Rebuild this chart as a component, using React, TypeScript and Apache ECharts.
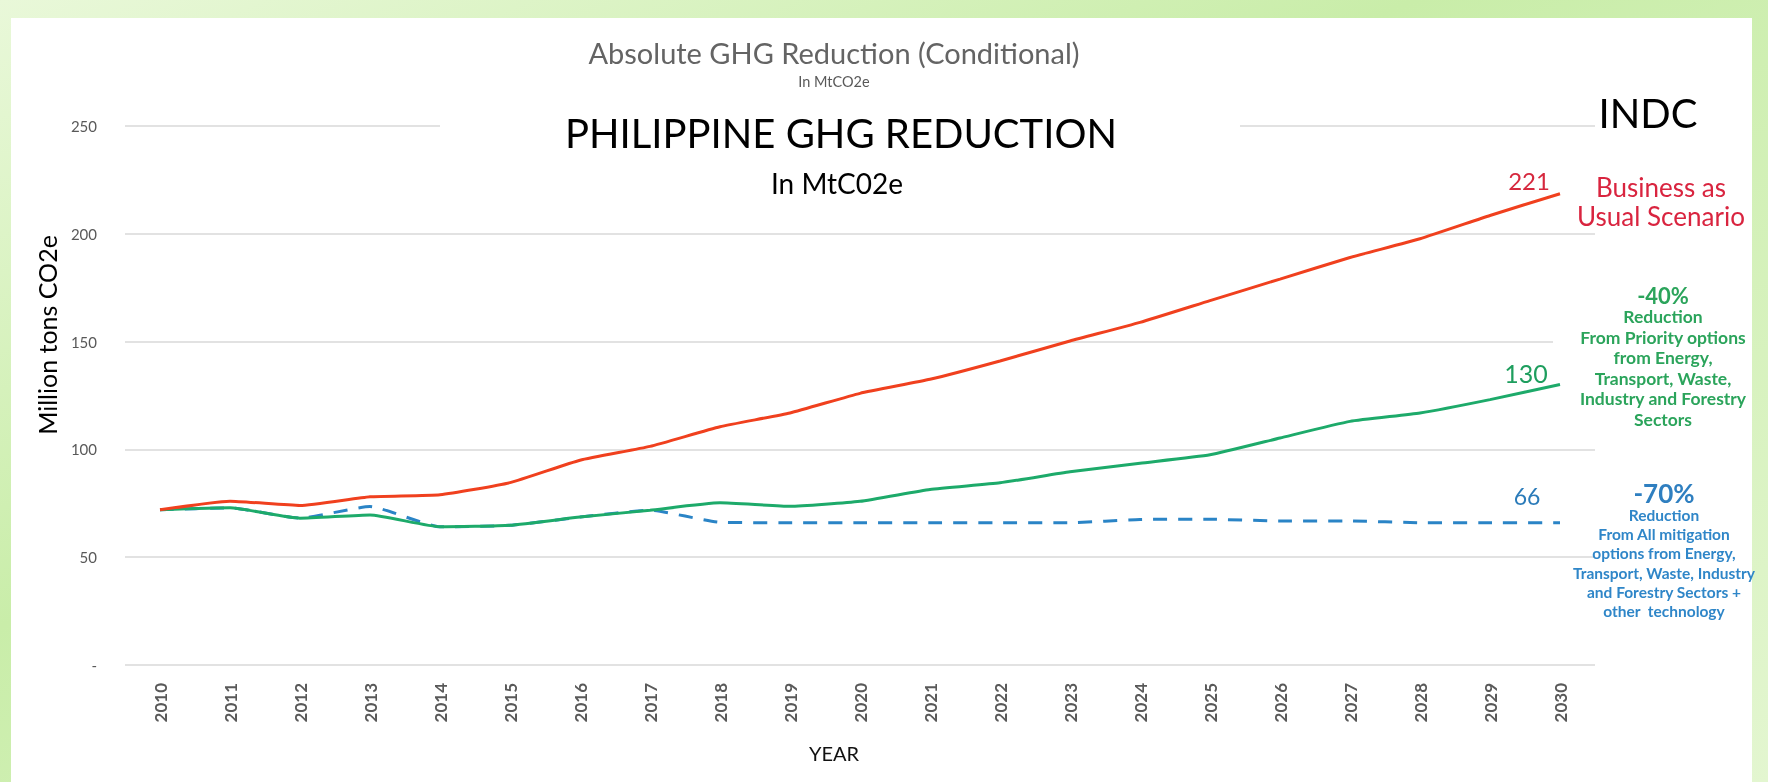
import React, { useEffect, useRef } from "react";
import * as echarts from "echarts";

const years = ["2010","2011","2012","2013","2014","2015","2016","2017","2018","2019","2020","2021","2022","2023","2024","2025","2026","2027","2028","2029","2030"];
const businessAsUsual = [72, 76, 74, 78, 79, 84.6, 95, 101.4, 110.5, 116.9, 126, 132.5, 141, 150.3, 158.9, 169, 179, 189, 197.7, 208.5, 218.6];
const priorityOptions = [72, 72.9, 68.1, 69.6, 64.1, 64.8, 68.6, 71.8, 75.2, 73.6, 75.9, 81.4, 84.5, 89.6, 93.6, 97.5, 105.3, 113, 116.9, 123.1, 130.1];
const allMitigation = [72, 72.9, 68.1, 73.5, 64.1, 64.8, 68.6, 71.8, 66.2, 66, 66, 66, 66, 66, 67.5, 67.6, 66.8, 66.8, 66, 66, 66];
const yTicks = [0, 50, 100, 150, 200, 250];
const endValueLabels = ["221", "130", "66"];
const greenNote = ["-40%", "Reduction", "From Priority options", "from Energy,", "Transport, Waste,", "Industry and Forestry", "Sectors"];
const blueNote = ["-70%", "Reduction", "From All mitigation", "options from Energy,", "Transport, Waste, Industry", "and Forestry Sectors +", "other  technology"];

const FONT = "Lato, 'Open Sans', sans-serif";
const RED = "#F0401E";
const GREEN = "#1DAA6A";
const BLUE = "#2A84C6";

export default function App() {
  const ref = useRef<HTMLDivElement>(null);
  useEffect(() => {
    if (!ref.current) return;
    const chart = echarts.init(ref.current, null, { renderer: "svg" });
    const option: any = {
      animation: false,
      backgroundColor: "transparent",
      graphic: [
        {
          type: "rect", z: -10, silent: true,
          shape: { x: 0, y: 0, width: 1768, height: 782 },
          style: {
            fill: new echarts.graphic.LinearGradient(0, 0, 1, 1, [
              { offset: 0, color: "#E9F8D9" },
              { offset: 0.4, color: "#C9EDA9" },
              { offset: 1, color: "#E3F6D0" },
            ]),
          },
        },
        {
          type: "rect", z: -9, silent: true,
          shape: { x: 11, y: 18, width: 1741, height: 764 },
          style: { fill: "#FFFFFF" },
        },
        {
          type: "rect", z: 1, silent: true,
          shape: { x: 440, y: 112, width: 800, height: 90 },
          style: { fill: "#FFFFFF" },
        },
        {
          type: "rect", z: 1, silent: true,
          shape: { x: 1553, y: 283, width: 199, height: 150 },
          style: { fill: "#FFFFFF" },
        },
        {
          type: "text", z: 5, x: 834, y: 52,
          style: { text: "Absolute GHG Reduction (Conditional)", font: `29px ${FONT}`, fill: "#646464", textAlign: "center", textVerticalAlign: "middle" },
        },
        {
          type: "text", z: 5, x: 834, y: 81,
          style: { text: "In MtCO2e", font: `14.5px ${FONT}`, fill: "#595959", textAlign: "center", textVerticalAlign: "middle" },
        },
        {
          type: "text", z: 5, x: 841, y: 133,
          style: { text: "PHILIPPINE GHG REDUCTION", font: `40px ${FONT}`, fill: "#000000", textAlign: "center", textVerticalAlign: "middle" },
        },
        {
          type: "text", z: 5, x: 837, y: 183,
          style: { text: "In MtC02e", font: `28px ${FONT}`, fill: "#000000", textAlign: "center", textVerticalAlign: "middle" },
        },
        {
          type: "text", z: 5, x: 1648, y: 113,
          style: { text: "INDC", font: `40px ${FONT}`, fill: "#000000", textAlign: "center", textVerticalAlign: "middle" },
        },
        {
          type: "text", z: 5, x: 47, y: 335, rotation: Math.PI / 2,
          style: { text: "Million tons CO2e", font: `25px ${FONT}`, fill: "#000000", textAlign: "center", textVerticalAlign: "middle" },
        },
        {
          type: "text", z: 5, x: 1529, y: 180,
          style: { text: endValueLabels[0], font: `24px ${FONT}`, fill: "#D6283E", textAlign: "center", textVerticalAlign: "middle" },
        },
        {
          type: "text", z: 5, x: 1661, y: 201,
          style: { text: "Business as\nUsual Scenario", font: `26px ${FONT}`, lineHeight: 29, fill: "#D9243F", textAlign: "center", textVerticalAlign: "middle" },
        },
        {
          type: "text", z: 5, x: 1526, y: 373,
          style: { text: endValueLabels[1], font: `25px ${FONT}`, fill: "#1E9E5E", textAlign: "center", textVerticalAlign: "middle" },
        },
        {
          type: "text", z: 5, x: 1663, y: 357,
          style: {
            text: greenNote.map((s, i) => (i === 0 ? `{a|${s}}` : `{b|${s}}`)).join("\n"),
            textAlign: "center", textVerticalAlign: "middle",
            rich: {
              a: { font: `bold 22px ${FONT}`, fill: "#2BA45B", lineHeight: 22, align: "center" },
              b: { font: `bold 17.5px ${FONT}`, fill: "#2BA45B", lineHeight: 20.5, align: "center" },
            },
          },
        },
        {
          type: "text", z: 5, x: 1527, y: 496,
          style: { text: endValueLabels[2], font: `23px ${FONT}`, fill: "#2B7BB9", textAlign: "center", textVerticalAlign: "middle" },
        },
        {
          type: "text", z: 5, x: 1664, y: 551,
          style: {
            text: blueNote.map((s, i) => (i === 0 ? `{a|${s}}` : `{b|${s}}`)).join("\n"),
            textAlign: "center", textVerticalAlign: "middle",
            rich: {
              a: { font: `bold 26px ${FONT}`, fill: "#2F7FC0", lineHeight: 24, align: "center" },
              b: { font: `bold 15.5px ${FONT}`, fill: "#2F86C8", lineHeight: 19.2, align: "center" },
            },
          },
        },
        {
          type: "text", z: 5, x: 834, y: 753,
          style: { text: "YEAR", font: `20px ${FONT}`, fill: "#111111", textAlign: "center", textVerticalAlign: "middle" },
        },
      ],
      grid: { left: 125, right: 173, top: 126, bottom: 117, containLabel: false },
      xAxis: {
        type: "category",
        data: years,
        boundaryGap: true,
        axisLine: { show: false },
        axisTick: { show: false },
        axisLabel: { rotate: 90, margin: 18, fontFamily: FONT, fontSize: 17, fontWeight: "bold", color: "#595959" },
      },
      yAxis: {
        type: "value",
        min: yTicks[0],
        max: yTicks[yTicks.length - 1],
        interval: 50,
        axisLine: { show: false },
        axisTick: { show: false },
        axisLabel: {
          margin: 28, fontFamily: FONT, fontSize: 15, color: "#595959",
          formatter: (v: number) => (v === 0 ? "-" : String(v)),
        },
        splitLine: { lineStyle: { color: "#D9D9D9", width: 1.5 } },
      },
      series: [
        {
          name: "All mitigation options", type: "line", data: allMitigation, smooth: 0.15,
          showSymbol: false, lineStyle: { color: BLUE, width: 3, type: [14, 11] }, itemStyle: { color: BLUE }, z: 2,
        },
        {
          name: "Priority options", type: "line", data: priorityOptions, smooth: 0.15,
          showSymbol: false, lineStyle: { color: GREEN, width: 3 }, itemStyle: { color: GREEN }, z: 3,
        },
        {
          name: "Business as Usual", type: "line", data: businessAsUsual, smooth: 0.15,
          showSymbol: false, lineStyle: { color: RED, width: 3 }, itemStyle: { color: RED }, z: 4,
        },
      ],
    };
    chart.setOption(option);
    return () => chart.dispose();
  }, []);
  return <div ref={ref} style={{ position: "fixed", left: 0, top: 0, width: 1768, height: 782 }} />;
}
